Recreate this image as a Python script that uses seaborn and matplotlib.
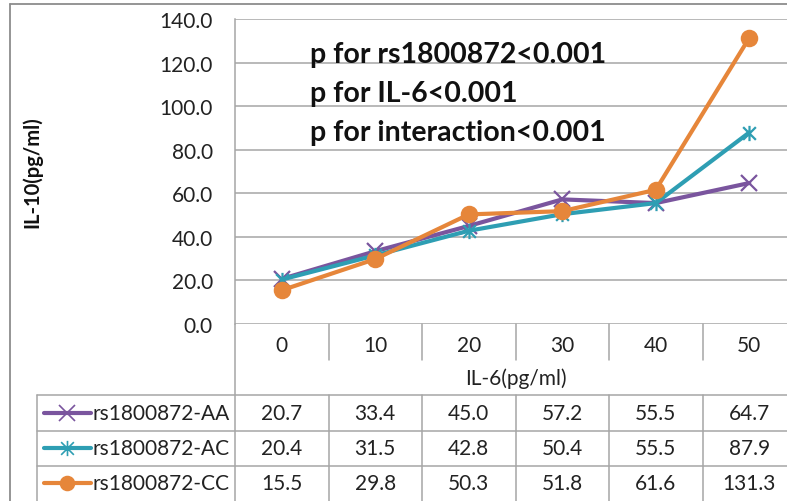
import numpy as np
import pandas as pd
import matplotlib
matplotlib.use("Agg")
import matplotlib.pyplot as plt
import seaborn as sns
from matplotlib.path import Path
from matplotlib.transforms import blended_transform_factory
from matplotlib.lines import Line2D

# ---- data ----
il6_levels = ["0", "10", "20", "30", "40", "50"]
series_names = ["rs1800872-AA", "rs1800872-AC", "rs1800872-CC"]
aa_values = [20.7, 33.4, 45.0, 57.2, 55.5, 64.7]
ac_values = [20.4, 31.5, 42.8, 50.4, 55.5, 87.9]
cc_values = [15.5, 29.8, 50.3, 51.8, 61.6, 131.3]
y_ticks = [0, 20, 40, 60, 80, 100, 120, 140]
annotations = ["p for rs1800872<0.001", "p for IL-6<0.001", "p for interaction<0.001"]

colors = ["#7A559E", "#2E9EB3", "#E6863A"]

values = [aa_values, ac_values, cc_values]
df = pd.DataFrame({
    "pos": np.tile(np.arange(len(il6_levels)), len(series_names)),
    "value": np.concatenate(values),
    "genotype": np.repeat(series_names, len(il6_levels)),
})

# Excel-style star marker (x with vertical line)
star = Path([(-1, -1), (1, 1), (-1, 1), (1, -1), (0, -1.2), (0, 1.2)],
            [Path.MOVETO, Path.LINETO, Path.MOVETO, Path.LINETO, Path.MOVETO, Path.LINETO])
markers = ["x", star, "o"]
msizes = [11, 11, 11]

W, H = 787, 502
sns.set_theme(style="white")
plt.rcParams["font.family"] = ["Lato", "DejaVu Sans"]
fig = plt.figure(figsize=(W / 100, H / 100), dpi=100)

ax_left, ax_right, ax_top, ax_bot = 235, 796, 20, 325
ax = fig.add_axes([ax_left / W, 1 - ax_bot / H, (ax_right - ax_left) / W, (ax_bot - ax_top) / H])

for name, c, m, ms in zip(series_names, colors, markers, msizes):
    sub = df[df["genotype"] == name]
    sns.lineplot(data=sub, x="pos", y="value", color=c, marker=m, markersize=ms,
                 markeredgewidth=1.6, markeredgecolor=c, markerfacecolor=c,
                 linewidth=3, legend=False, ax=ax, zorder=3)

FS = 15
ax.set_xlim(-0.5, 5.5)
ax.set_ylim(0, 140)
ax.set_yticks(y_ticks)
ax.set_yticklabels([f"{v:.1f}" for v in y_ticks])
ax.set_xticks(range(len(il6_levels)))
ax.set_xticklabels(il6_levels)
ax.tick_params(axis="both", length=0, labelsize=FS, colors="#222222")
ax.tick_params(axis="y", pad=16)
ax.tick_params(axis="x", pad=8)
ax.grid(axis="y", color="#A6A6A6", linewidth=1.1)
ax.set_axisbelow(True)
for s in ["top", "right", "bottom"]:
    ax.spines[s].set_visible(False)
ax.spines["left"].set_color("#A6A6A6")
ax.spines["left"].set_linewidth(1.1)
ax.set_xlabel("")
ax.set_ylabel("")

for i, t in enumerate(annotations):
    fig.text(310 / W, 1 - (55 + i * 39) / H, t, fontsize=20.5, fontweight="bold",
             va="center", ha="left", color="#111111")

fig.text(32 / W, 1 - 172 / H, "IL-10(pg/ml)", rotation=90, fontsize=14.5, fontweight="bold",
         ha="center", va="center", color="#111111")
fig.text((ax_left + ax_right) / 2 / W, 1 - 379 / H, "IL-6(pg/ml)", fontsize=FS,
         ha="center", va="center", color="#222222")

gray = "#A6A6A6"
bt = blended_transform_factory(ax.transData, fig.transFigure)
fy = lambda py: 1 - py / H

# header dividers and table column dividers
for b in np.arange(0.5, len(il6_levels), 1.0):
    fig.add_artist(Line2D([b, b], [fy(325), fy(361)], transform=bt, color=gray, lw=1.1))
    fig.add_artist(Line2D([b, b], [fy(396), fy(505)], transform=bt, color=gray, lw=1.1))
# axis line continuing down through the table
fig.add_artist(Line2D([ax_left / W, ax_left / W], [fy(325), fy(505)], color=gray, lw=1.1))
# table horizontal lines
for py in [396, 432, 467]:
    fig.add_artist(Line2D([37 / W, 1.0], [fy(py), fy(py)], color=gray, lw=1.1))
fig.add_artist(Line2D([37 / W, 37 / W], [fy(396), fy(505)], color=gray, lw=1.1))

# outer chart border
fig.add_artist(Line2D([10 / W, 10 / W], [fy(5), fy(505)], color="#8C8C8C", lw=1.3))
fig.add_artist(Line2D([10 / W, 1.0], [fy(5), fy(5)], color="#8C8C8C", lw=1.3))

row_y = [414, 449, 484]
for r, (name, vals, c, m) in enumerate(zip(series_names, values, colors, markers)):
    y = fy(row_y[r])
    fig.add_artist(Line2D([44 / W, 91 / W], [y, y], color=c, lw=3))
    fig.add_artist(Line2D([67 / W], [y], color=c, marker=m, markersize=11 if m != "o" else 10,
                          markeredgewidth=1.2, markerfacecolor=c, markeredgecolor=c))
    fig.text(92 / W, y, name, fontsize=FS, ha="left", va="center", color="#222222")
    for j, v in enumerate(vals):
        fig.text(j, y, f"{v:.1f}", transform=bt, fontsize=FS, ha="center", va="center",
                 color="#222222")

fig.savefig("out.png", dpi=100)
